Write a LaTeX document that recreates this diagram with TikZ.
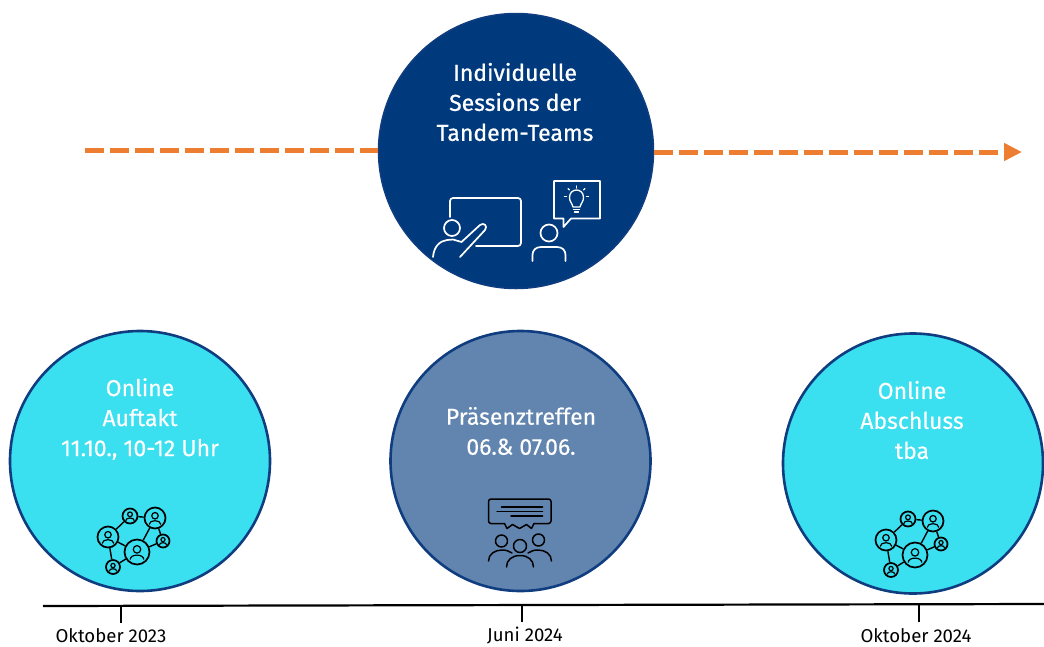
\documentclass[tikz,border=0pt]{standalone}
\usepackage{fontspec}
\setmainfont{Fira Sans}
\newfontfamily\headfont[FakeBold=0.7]{Fira Sans}
\newfontfamily\capfont[FakeBold=0.25]{Fira Sans}
\usetikzlibrary{arrows.meta, positioning, calc}
\definecolor{navyfill}{HTML}{003A7D}
\definecolor{ringblue}{HTML}{0F3D80}
\definecolor{cyanfill}{HTML}{3ADFF0}
\definecolor{steelfill}{HTML}{6285AF}
\definecolor{dashorange}{HTML}{ED7D31}
\tikzset{
  memberdot/.style={circle, draw=black, line width=1.7pt, inner sep=0pt, minimum size=#1},
  netmark/.pic={
    \node[memberdot=15pt] (a) at (130,516) {};
    \node[memberdot=21pt] (b) at (155,518) {};
    \node[memberdot=21pt] (c) at (108,537) {};
    \node[memberdot=25pt] (d) at (137,552) {};
    \node[memberdot=13pt] (e) at (163,541) {};
    \node[memberdot=14pt] (f) at (113,567) {};
    \draw[line width=1.4pt] (a) -- (b);
    \draw[line width=1.4pt] (a) -- (c);
    \draw[line width=1.4pt] (b) -- (d);
    \draw[line width=1.4pt] (b) -- (e);
    \draw[line width=1.4pt] (c) -- (d);
    \draw[line width=1.4pt] (c) -- (f);
    \draw[line width=1.4pt] (d) -- (e);
    \draw[line width=1.4pt] (d) -- (f);
    \foreach \px/\py/\pr in {130/516/0.7, 155/518/0.95, 108/537/0.95, 137/552/1.1, 163/541/0.6, 113/567/0.62}{
      \draw[line width=1.2pt] (\px,\py-2.4*\pr) circle ({3.4*\pr});
      \draw[line width=1.2pt] (\px-6.2*\pr,\py+6.8*\pr) .. controls (\px-6*\pr,\py+1.5*\pr) and (\px+6*\pr,\py+1.5*\pr) .. (\px+6.2*\pr,\py+6.8*\pr);
    }
  }
}
\begin{document}
\begin{tikzpicture}[
    x=1pt, y=-1pt,
    >=Latex,
    bigdisc/.style={circle, draw=ringblue, line width=2.6pt, inner sep=0pt, minimum size=260pt},
    plan/.style={dashorange, line width=5pt, dash pattern=on 19pt off 6pt},
    caption/.style={text=white, font=\capfont\fontsize{23}{30}\selectfont, align=center},
    datelabel/.style={inner sep=0pt, font=\fontsize{18.6}{20}\selectfont},
    glyph/.style={white, line width=1.7pt, line cap=round, line join=round},
    darkglyph/.style={black, line width=1.5pt, line cap=round, line join=round}
  ]
    \useasboundingbox (0,0) rectangle (1044,646);
    % dashed plan line behind the sessions
    \coordinate (planstart) at (85,150);
    \coordinate (planend) at (1022,152);
    \node[bigdisc, fill=navyfill, line width=1.5pt, minimum size=275pt] (sessions) at (516,151) {};
    \draw[plan] (planstart) -- (sessions.west |- planstart);
    \draw[plan, -{Triangle[length=18pt,width=17pt,sep=0pt]}] (sessions.east |- planend) -- (planend);
    \node[bigdisc, fill=cyanfill] (kickoff) at (140,461) {};
    \node[bigdisc, fill=steelfill] (meeting) at (520.5,461) {};
    \node[bigdisc, fill=cyanfill] (closing) at (913,463.5) {};
    \node[caption, font=\headfont\fontsize{23}{30}\selectfont] (sessionstext) at (515,102) {Individuelle\\Sessions der\\Tandem-Teams};
    \node[caption] (kickofftext) at (140,419) {Online\\Auftakt\\11.10., 10-12 Uhr};
    \node[caption] (meetingtext) at (521,431) {Präsenztreffen\\06.\& 07.06.};
    \node[caption] (closingtext) at (912,420) {Online\\Abschluss\\tba};
    % teaching icon
    \draw[glyph, rounded corners=3pt] (450,217) -- (450,198) -- (521,198) -- (521,246) -- (476,246);
    \draw[glyph] (452,228) circle (8);
    \draw[glyph] (433,257) .. controls (434,246) and (440,241) .. (447,240) -- (453,239.5) -- (461.5,242) -- (480,225) .. controls (484,222) and (488,226) .. (485,230) -- (460,257);
    \draw[glyph] (549,233) circle (8.5);
    \draw[glyph] (532.5,261) -- (532.5,255) .. controls (532.5,250) and (536,247) .. (541,247) -- (557,247) .. controls (562,247) and (565.5,250) .. (565.5,255) -- (565.5,261);
    \draw[glyph] (554,218.5) -- (554,181) -- (600,181) -- (600,218.5) -- (571,218.5) -- (563.5,227) -- (563.5,218.5) -- cycle;
    \draw[glyph, line width=1.3pt] (573,207) .. controls (572,203) and (569.5,201.5) .. (569.5,197.5) .. controls (569.5,187.5) and (583.5,187.5) .. (583.5,197.5) .. controls (583.5,201.5) and (581,203) .. (580,207) -- cycle;
    \draw[glyph, line width=1.3pt] (573.5,209.5) -- (579.5,209.5);
    \draw[glyph, line width=1.3pt] (574.5,212) -- (578.5,212);
    \draw[glyph, line width=1.1pt] (576.5,186) -- (576.5,188);
    \draw[glyph, line width=1.1pt] (568,188.5) -- (569.5,190);
    \draw[glyph, line width=1.1pt] (585,188.5) -- (583.5,190);
    \draw[glyph, line width=1.1pt] (564.5,196.5) -- (566.5,196.5);
    \draw[glyph, line width=1.1pt] (586.5,196.5) -- (588.5,196.5);
    % network icons
    \pic (kicknet) at (0,0) {netmark};
    \pic (closenet) at (778,3) {netmark};
    % meeting icon
    \draw[darkglyph, rounded corners=2.5pt] (504.5,523.5) -- (488.5,523.5) -- (488.5,499) -- (551,499) -- (551,523.5) -- (534,523.5);
    \draw[darkglyph] (504.5,523.5) -- (507,528.5) -- (512.5,524.5) -- (519.5,528.5) -- (526.5,524.5) -- (531.5,528.5) -- (534,523.5);
    \draw[darkglyph] (501.5,507) -- (542.5,507);
    \draw[darkglyph] (497,511.5) -- (542.5,511.5);
    \draw[darkglyph] (511,516) -- (542.5,516);
    \draw[darkglyph] (501.5,541) circle (6);
    \draw[darkglyph] (538.5,540) circle (6);
    \draw[darkglyph] (520,546) circle (6.5);
    \draw[darkglyph] (488.5,561) .. controls (488.5,554) and (495,550) .. (502,550) .. controls (506,550) and (509,551) .. (512,553);
    \draw[darkglyph] (551.5,561) .. controls (551.5,554) and (545,550) .. (538,550) .. controls (534,550) and (531,551) .. (528,553);
    \draw[darkglyph] (506.5,567) .. controls (506.5,560) and (512,555.5) .. (520,555.5) .. controls (528,555.5) and (533.5,560) .. (533.5,567);
    % time axis
    \coordinate (axisstart) at (43,606);
    \coordinate (axisend) at (1044,604);
    \draw[black, line width=2.2pt] (axisstart) -- (axisend);
    \node[datelabel] (dateone) at (111,636) {Oktober 2023};
    \node[datelabel] (datetwo) at (525,636) {Juni 2024};
    \node[datelabel] (datethree) at (916,636) {Oktober 2024};
    \coordinate (tickone) at (121,606);
    \coordinate (ticktwo) at (522,605);
    \coordinate (tickthree) at (919,604.5);
    \draw[black, line width=2.2pt] (tickone) -- ++(0,17);
    \draw[black, line width=2.2pt] (ticktwo) -- ++(0,17);
    \draw[black, line width=2.2pt] (tickthree) -- ++(0,17);
  \end{tikzpicture}
\end{document}
